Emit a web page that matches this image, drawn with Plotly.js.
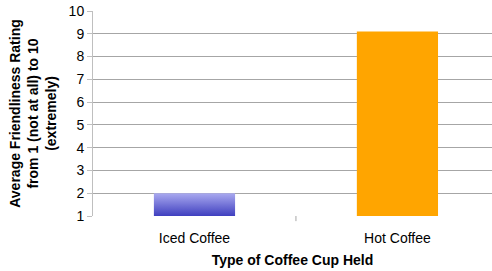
<!DOCTYPE html>
<html><head><meta charset="utf-8">
<script src="https://cdn.plot.ly/plotly-3.0.1.min.js"></script>
<style>html,body{margin:0;padding:0;background:#fff;}#c{width:492px;height:271px;}</style>
</head><body><div id="c"></div>
<script>
const categories = ["Iced Coffee", "Hot Coffee"];
const ratings = [2.0, 9.1];
const barColors = ["#6e6ed8", "#ffa500"];
const yTicks = [1,2,3,4,5,6,7,8,9,10];

const trace = {
  type: "bar", x: [0, 1], y: ratings.map(v => v - 1), base: 1,
  marker: {color: barColors, line: {width: 0}},
  width: 0.4, hoverinfo: "none"
};
const layout = {
  width: 492, height: 271,
  margin: {l: 93, r: 0, t: 11, b: 55},
  paper_bgcolor: "#fff", plot_bgcolor: "#fff",
  font: {family: "Liberation Sans, Arial, sans-serif", size: 14, color: "#000"},
  showlegend: false,
  xaxis: {
    range: [-0.5, 1.466], tickmode: "array", tickvals: [0, 1], ticktext: categories,
    showgrid: false, zeroline: false, showline: false,
    ticks: "", tickfont: {size: 14}, ticklabelstandoff: 12,
    title: {text: "<b>Type of Coffee Cup Held</b>", font: {size: 14}, standoff: 10}
  },
  yaxis: {
    range: [1, 10], tickmode: "array", tickvals: yTicks,
    showgrid: true, gridcolor: "#a6a6a6", gridwidth: 1,
    showline: true, linecolor: "#bfbfbf", ticks: "outside", ticklen: 5, tickcolor: "#bfbfbf",
    zeroline: false, tickfont: {size: 14},
    title: {text: "<b>Average Friendliness Rating<br>from 1 (not at all) to 10<br>(extremely)</b>", font: {size: 14}, standoff: 8}
  },
  shapes: [
    {type: "line", xref: "x", yref: "paper", x0: 0.5, x1: 0.5, y0: 0, y1: -0.025, line: {color: "#a6a6a6", width: 1}}
  ]
};
Plotly.newPlot("c", [trace], layout, {staticPlot: true}).then(() => {
  const svg = document.querySelector("#c svg.main-svg");
  const ns = "http://www.w3.org/2000/svg";
  let defs = svg.querySelector("defs");
  if (!defs) { defs = document.createElementNS(ns, "defs"); svg.insertBefore(defs, svg.firstChild); }
  const g = document.createElementNS(ns, "linearGradient");
  g.setAttribute("id", "icedGrad"); g.setAttribute("x1", "0"); g.setAttribute("y1", "0"); g.setAttribute("x2", "0"); g.setAttribute("y2", "1");
  [["0", "#aaaaf0"], ["1", "#3f3fbf"]].forEach(([o, c]) => {
    const s = document.createElementNS(ns, "stop"); s.setAttribute("offset", o); s.setAttribute("stop-color", c); g.appendChild(s);
  });
  defs.appendChild(g);
  const bars = document.querySelectorAll("#c .bars .point path");
  if (bars[0]) bars[0].style.fill = "url(#icedGrad)";
});
</script></body></html>
